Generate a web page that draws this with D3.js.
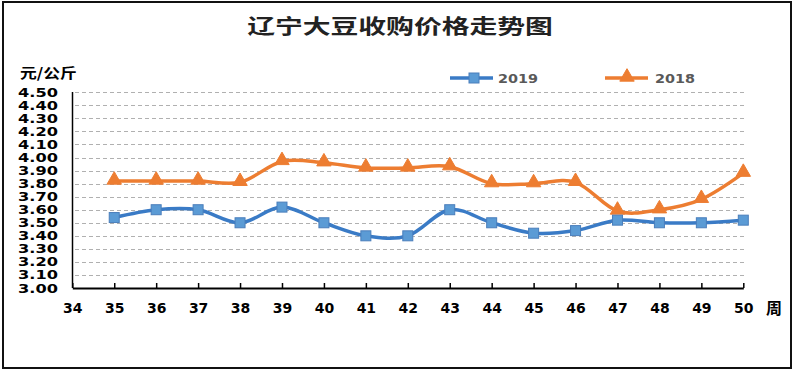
<!DOCTYPE html>
<html>
<head>
<meta charset="utf-8">
<script src="https://cdn.jsdelivr.net/npm/d3@7"></script>
<style>
  body { margin: 0; background: #fff; }
  svg { display: block; }
</style>
</head>
<body>
<svg width="796" height="372"></svg>
<script>
var weeks = [35, 36, 37, 38, 39, 40, 41, 42, 43, 44, 45, 46, 47, 48, 49, 50]
var price2019 = [3.54, 3.60, 3.60, 3.50, 3.62, 3.50, 3.40, 3.40, 3.60, 3.50, 3.42, 3.44, 3.52, 3.50, 3.50, 3.52]
var price2018 = [3.82, 3.82, 3.82, 3.81, 3.97, 3.96, 3.92, 3.92, 3.93, 3.80, 3.80, 3.81, 3.59, 3.60, 3.68, 3.88]
var xTicks = d3.range(34, 51)
var yTicks = d3.range(0, 16).map(function(i){ return +(3 + i * 0.1).toFixed(2) })

var svg = d3.select("svg")

// outer frame
svg.append("rect")
	.attr("x", 3).attr("y", 2)
	.attr("width", 788).attr("height", 366)
	.attr("fill", "none")
	.attr("stroke", "#111")
	.attr("stroke-width", 2)

var x = d3.scaleLinear().domain([34, 50]).range([72.3, 743.3])
var y = d3.scaleLinear().domain([3, 4.5]).range([288, 92.3])

// title
svg.append("text")
	.attr("transform", "translate(400,34) scale(1.39,1)")
	.attr("text-anchor", "middle")
	.attr("font-family", "'Noto Sans CJK SC'")
	.attr("font-size", 20)
	.attr("font-weight", "bold")
	.attr("fill", "#222")
	.text("辽宁大豆收购价格走势图")

// unit label
svg.append("text")
	.attr("transform", "translate(20,78) scale(1.2,1)")
	.attr("font-family", "'Noto Sans CJK SC'")
	.attr("font-size", 14)
	.attr("font-weight", "bold")
	.attr("fill", "#000")
	.text("元/公斤")

// gridlines
svg.append("g")
	.selectAll("line")
	.data(yTicks.slice(1))
	.enter()
	.append("line")
	.attr("x1", 75).attr("x2", 745)
	.attr("y1", function(d){ return Math.round(y(d)) + 0.5 })
	.attr("y2", function(d){ return Math.round(y(d)) + 0.5 })
	.attr("stroke", "#b0b0b0")
	.attr("stroke-dasharray", "4,3")

// y tick labels
svg.append("g")
	.selectAll("text")
	.data(yTicks)
	.enter()
	.append("text")
	.attr("transform", function(d){ return "translate(58," + (y(d) + 4.5) + ") scale(1.35,1)" })
	.attr("text-anchor", "end")
	.attr("font-family", "'DejaVu Sans'")
	.attr("font-size", 12)
	.attr("font-weight", "bold")
	.attr("fill", "#000")
	.text(function(d){ return d.toFixed(2) })

// y axis line
svg.append("line")
	.attr("x1", 72.5).attr("x2", 72.5)
	.attr("y1", 92).attr("y2", 288)
	.attr("stroke", "#000").attr("stroke-width", 1.5)

// x axis with inward ticks
var xAxis = d3.axisBottom(x).tickValues(xTicks).tickSize(-5).tickSizeOuter(0).tickFormat(d3.format("d"))
var gx = svg.append("g")
	.attr("transform", "translate(0,288)")
	.call(xAxis)
gx.select(".domain").attr("stroke", "#000").attr("stroke-width", 2)
gx.selectAll(".tick line").attr("stroke", "#000").attr("stroke-width", 1.5)
gx.selectAll(".tick text")
	.attr("y", 25).attr("dy", 0)
	.attr("font-family", "'DejaVu Sans'")
	.attr("font-size", 14)
	.attr("font-weight", "bold")
	.attr("fill", "#000")

svg.append("text")
	.attr("x", 766).attr("y", 314)
	.attr("font-family", "'Noto Sans CJK SC'")
	.attr("font-size", 16)
	.attr("font-weight", "bold")
	.text("周")

var blue = "#3a7bc6", blueFill = "#5b9bd5"
var orange = "#ed7d31"

var line = d3.line()
	.x(function(d){ return x(d[0]) })
	.y(function(d){ return y(d[1]) })
	.curve(d3.curveCatmullRom.alpha(0))

var s2019 = weeks.map(function(w, i){ return [w, price2019[i]] })
var s2018 = weeks.map(function(w, i){ return [w, price2018[i]] })

svg.append("path").datum(s2018)
	.attr("d", line).attr("fill", "none")
	.attr("stroke", orange).attr("stroke-width", 3.5)

svg.append("path").datum(s2019)
	.attr("d", line).attr("fill", "none")
	.attr("stroke", blue).attr("stroke-width", 3.5)

var tri = d3.symbol().type(d3.symbolTriangle).size(90)

svg.append("g").selectAll("path")
	.data(s2018).enter()
	.append("path")
	.attr("d", tri)
	.attr("transform", function(d){ return "translate(" + x(d[0]) + "," + (y(d[1]) - 1) + ")" })
	.attr("fill", orange)
	.attr("stroke", orange)

svg.append("g").selectAll("rect")
	.data(s2019).enter()
	.append("rect")
	.attr("x", function(d){ return x(d[0]) - 5 })
	.attr("y", function(d){ return y(d[1]) - 5 })
	.attr("width", 10).attr("height", 10)
	.attr("fill", blueFill)
	.attr("stroke", "#4a7ebb")
	.attr("stroke-width", 1)

// legend
var legend = svg.append("g").attr("transform", "translate(0,78)")
legend.append("line").attr("x1", 450).attr("x2", 493).attr("y1", 0).attr("y2", 0)
	.attr("stroke", blue).attr("stroke-width", 3.5)
legend.append("rect").attr("x", 469).attr("y", -5).attr("width", 10).attr("height", 10)
	.attr("fill", blueFill).attr("stroke", "#4a7ebb")
legend.append("text").attr("transform", "translate(498,5) scale(1.2,1)")
	.attr("font-family", "'DejaVu Sans'").attr("font-size", 12).attr("font-weight", "bold")
	.attr("fill", "#595959").text("2019")

legend.append("line").attr("x1", 605).attr("x2", 648).attr("y1", 0).attr("y2", 0)
	.attr("stroke", orange).attr("stroke-width", 3.5)
legend.append("path").attr("d", tri).attr("transform", "translate(627,-1)")
	.attr("fill", orange).attr("stroke", orange)
legend.append("text").attr("transform", "translate(655,5) scale(1.2,1)")
	.attr("font-family", "'DejaVu Sans'").attr("font-size", 12).attr("font-weight", "bold")
	.attr("fill", "#595959").text("2018")
</script>
</body>
</html>
